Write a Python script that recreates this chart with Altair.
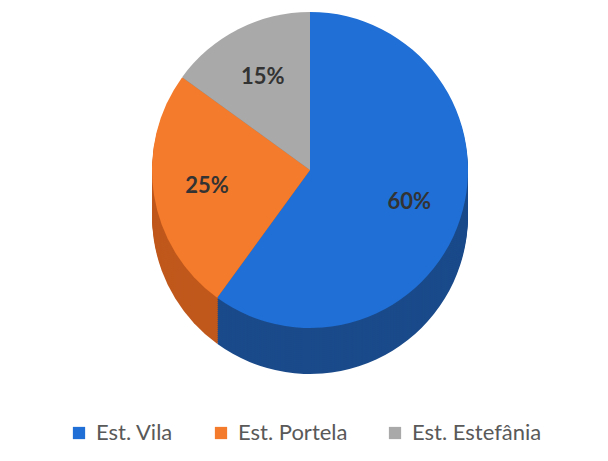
import altair as alt
import pandas as pd

categories = ["Est. Vila", "Est. Portela", "Est. Estefânia"]
values = [60, 25, 15]
labels = ["60%", "25%", "15%"]
order = [0, 1, 2]

colors = ["#1f6fd6", "#f47b2b", "#a9a9a9"]
side_colors = ["#1a4a8a", "#c0581c", "#7a7a7a"]

df = pd.DataFrame({"cat": categories, "side": categories, "val": values,
                   "label": labels, "order": order})

cx, cy, R, depth = 302, 162, 158, 46

theta = alt.Theta("val:Q", stack=True)
base = alt.Chart(df)

layers = []
for off in range(depth, 0, -2):
    layers.append(
        base.mark_arc(radius=R).encode(
            theta=theta,
            fill=alt.Fill("side:N", scale=alt.Scale(domain=categories, range=side_colors), legend=None),
            order=alt.Order("order:Q"),
            x=alt.value(cx),
            y=alt.value(cy + off),
        )
    )

top = base.mark_arc(radius=R).encode(
    theta=theta,
    color=alt.Color(
        "cat:N",
        scale=alt.Scale(domain=categories, range=colors),
        sort=categories,
        legend=alt.Legend(title=None, orient="none", legendX=60, legendY=414,
                          direction="horizontal",
                          symbolType="square", symbolSize=150, labelFontSize=22,
                          labelColor="#595959", labelFont="Lato", columnPadding=36,
                          symbolStrokeWidth=0, labelOffset=6),
    ),
    order=alt.Order("order:Q"),
    x=alt.value(cx),
    y=alt.value(cy),
)

text = base.mark_text(radius=R * 0.66, fontSize=22, fontWeight="bold", font="Lato", color="#333333").encode(
    theta=theta,
    text="label:N",
    order=alt.Order("order:Q"),
    x=alt.value(cx),
    y=alt.value(cy),
)

chart = alt.layer(*layers, top, text).resolve_scale(
    fill="independent", color="independent"
).resolve_legend(fill="independent", color="independent").properties(
    width=592, height=445,
    autosize=alt.AutoSizeParams(type="fit", contains="padding"),
    padding=0,
).configure_view(stroke=None)

chart.save("out.html", embed_options={"renderer": "svg", "actions": False})
